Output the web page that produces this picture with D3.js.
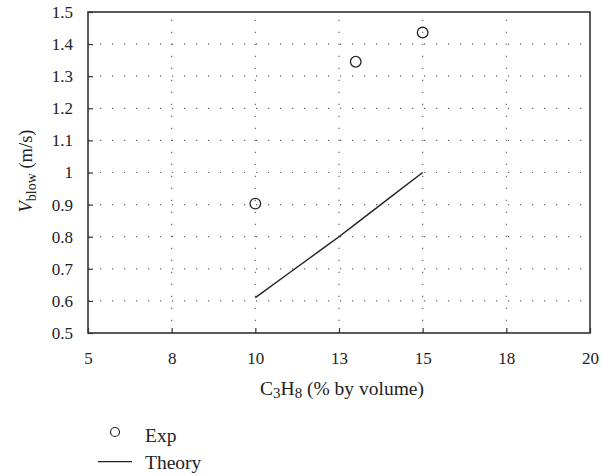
<!DOCTYPE html>
<html>
<head>
<meta charset="utf-8">
<script src="https://cdn.jsdelivr.net/npm/d3@7"></script>
<style>
  body { margin: 0; background: #fff; }
  text { font-family: "Liberation Serif", "DejaVu Serif", serif; fill: #222; }
</style>
</head>
<body>
<div id="chart"></div>
<script>
// data
var expX = [10, 13, 15];
var expY = [0.903, 1.345, 1.436];
var theoryX = [10, 11, 12, 12.5, 13, 14, 15];
var theoryY = [0.61, 0.686, 0.762, 0.80, 0.84, 0.92, 1.0];
var xTicks = [5, 7.5, 10, 12.5, 15, 17.5, 20];
var xTickLabels = ["5", "8", "10", "13", "15", "18", "20"];
var yTicks = [0.5, 0.6, 0.7, 0.8, 0.9, 1, 1.1, 1.2, 1.3, 1.4, 1.5];

var svgWidth = 602, svgHeight = 475;
var margin = { top: 12, right: 12, bottom: 142, left: 88 };
var chartWidth = svgWidth - margin.left - margin.right;
var chartHeight = svgHeight - margin.top - margin.bottom;

var svg = d3.select("#chart").append("svg")
  .attr("width", svgWidth)
  .attr("height", svgHeight);

var chartGroup = svg.append("g")
  .attr("transform", `translate(${margin.left}, ${margin.top})`);

var xScale = d3.scaleLinear().domain([5, 20]).range([0, chartWidth]);
var yScale = d3.scaleLinear().domain([0.5, 1.5]).range([chartHeight, 0]);

// dotted grid
chartGroup.append("g")
  .selectAll("line")
  .data(yTicks.slice(1, -1)).enter()
  .append("line")
  .attr("x1", 0).attr("x2", chartWidth)
  .attr("y1", d => yScale(d)).attr("y2", d => yScale(d))
  .attr("stroke", "#666").attr("stroke-width", 1.2)
  .attr("stroke-dasharray", "1.2,10.8");

chartGroup.append("g")
  .selectAll("line")
  .data(xTicks.slice(1, -1)).enter()
  .append("line")
  .attr("x1", d => xScale(d)).attr("x2", d => xScale(d))
  .attr("y1", chartHeight).attr("y2", 0)
  .attr("stroke", "#666").attr("stroke-width", 1.2)
  .attr("stroke-dasharray", "1.2,10.8");

// axes, ticks pointing inward
var bottomAxis = d3.axisBottom(xScale)
  .tickValues(xTicks)
  .tickSize(-5)
  .tickPadding(18.5)
  .tickFormat((d, i) => xTickLabels[i]);
var leftAxis = d3.axisLeft(yScale)
  .tickValues(yTicks)
  .tickSize(-5)
  .tickPadding(15)
  .tickFormat(d3.format("~g"));

var gx = chartGroup.append("g")
  .attr("transform", `translate(0, ${chartHeight})`)
  .call(bottomAxis);
var gy = chartGroup.append("g").call(leftAxis);

[gx, gy].forEach(g => {
  g.select(".domain").remove();
  g.attr("font-family", null);
  g.selectAll(".tick line").attr("stroke", "#333").attr("stroke-width", 1.2);
  g.selectAll(".tick text")
    .style("font-family", "'Liberation Serif', serif")
    .style("font-size", "17px")
    .attr("fill", "#222");
});

// frame
chartGroup.append("rect")
  .attr("x", 0).attr("y", 0)
  .attr("width", chartWidth).attr("height", chartHeight)
  .attr("fill", "none")
  .attr("stroke", "#333").attr("stroke-width", 1.6);

// theory line
var theory = theoryX.map((x, i) => [x, theoryY[i]]);
chartGroup.append("path")
  .datum(theory)
  .attr("fill", "none")
  .attr("stroke", "#222").attr("stroke-width", 1.4)
  .attr("d", d3.line().x(d => xScale(d[0])).y(d => yScale(d[1])));

// experimental points
chartGroup.selectAll(".dot")
  .data(expX).enter()
  .append("circle")
  .attr("class", "dot")
  .attr("r", 5.3)
  .attr("cx", d => xScale(d))
  .attr("cy", (d, i) => yScale(expY[i]))
  .attr("fill", "none")
  .attr("stroke", "#222").attr("stroke-width", 1.3);

// axis titles
var xt = svg.append("text")
  .attr("x", 342)
  .attr("y", 395)
  .attr("text-anchor", "middle")
  .style("font-size", "19.5px");
xt.append("tspan").text("C");
xt.append("tspan").attr("dy", 3).style("font-size", "15px").text("3");
xt.append("tspan").attr("dy", -3).text("H");
xt.append("tspan").attr("dy", 3).style("font-size", "15px").text("8");
xt.append("tspan").attr("dy", -3).text(" (% by volume)");

var yt = svg.append("text")
  .attr("transform", `translate(32, 171) rotate(-90)`)
  .attr("text-anchor", "middle")
  .style("font-size", "18.5px");
yt.append("tspan").style("font-style", "italic").text("V");
yt.append("tspan").attr("dy", 3.5).style("font-size", "14px").text("blow");
yt.append("tspan").attr("dy", -3.5).text(" (m/s)");

// legend
var legend = svg.append("g").attr("transform", "translate(98, 432)");
legend.append("circle")
  .attr("cx", 17).attr("cy", 0).attr("r", 4.5)
  .attr("fill", "none").attr("stroke", "#222").attr("stroke-width", 1.2);
legend.append("text").attr("x", 47).attr("y", 9.5)
  .style("font-size", "19.5px").text("Exp");
legend.append("line")
  .attr("x1", 0).attr("x2", 34).attr("y1", 29.7).attr("y2", 29.7)
  .attr("stroke", "#222").attr("stroke-width", 1.3);
legend.append("text").attr("x", 47).attr("y", 37)
  .style("font-size", "19.5px").text("Theory");
</script>
</body>
</html>
